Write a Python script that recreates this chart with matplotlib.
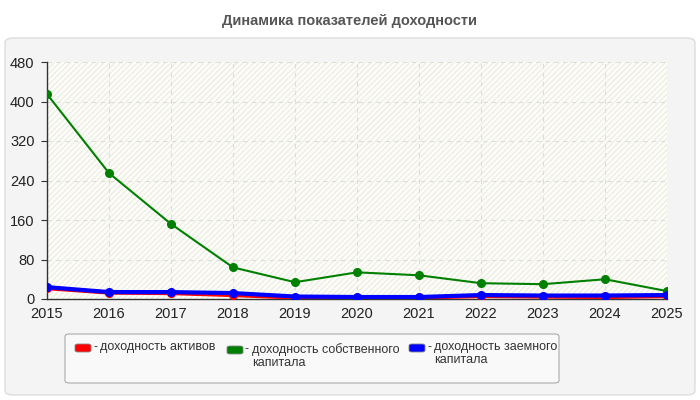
import matplotlib
matplotlib.use("Agg")
import matplotlib.pyplot as plt
from matplotlib.patches import FancyBboxPatch, Rectangle

YEARS = [2015, 2016, 2017, 2018, 2019, 2020, 2021, 2022, 2023, 2024, 2025]
ROA = [22, 13, 12, 8, 3, 3, 3, 6, 5, 4, 6]
ROE = [415, 255, 152, 64, 34, 54, 48, 32, 30, 40, 16]
ROD = [24, 14, 14, 12, 5, 4, 4, 8, 7, 7, 8]

SERIES_LABELS = [
    "доходность активов",
    "доходность собственного\nкапитала",
    "доходность заемного\nкапитала",
]
SERIES_COLORS = ["#ff0000", "#008000", "#0000ff"]
Y_TICKS = [0, 80, 160, 240, 320, 400, 480]
TITLE = "Динамика показателей доходности"

plt.rcParams["font.family"] = ["Liberation Sans", "DejaVu Sans"]
plt.rcParams["hatch.linewidth"] = 0.7

fig = plt.figure(figsize=(7, 4), dpi=100)
fig.patch.set_facecolor("white")

# outer rounded panel
panel = FancyBboxPatch((5 / 700, 5 / 400), 690 / 700, 357 / 400,
                       boxstyle="round,pad=0,rounding_size=0.012",
                       transform=fig.transFigure, facecolor="#f4f4f4",
                       edgecolor="#dddddd", linewidth=1, zorder=-10)
fig.patches.append(panel)

fig.text(0.5, 0.948, TITLE, ha="center", va="center", fontsize=10.5,
         fontweight="bold", color="#555555")

ax = fig.add_axes([47 / 700, 101 / 400, 620 / 700, 237 / 400])
ax.set_facecolor("#fdfdf6")
ax.add_patch(Rectangle((0, 0), 1, 1, transform=ax.transAxes, facecolor="none",
                       edgecolor="#e8e8e8", hatch="//////", linewidth=0,
                       zorder=0.1))

ax.plot(YEARS, ROA, color=SERIES_COLORS[0], lw=3, marker="o", ms=5.5, zorder=3)
ax.plot(YEARS, ROE, color=SERIES_COLORS[1], lw=1.5, marker="o", ms=5.5, zorder=3)
ax.plot(YEARS, ROD, color=SERIES_COLORS[2], lw=3, marker="o", ms=5.5, zorder=4)

ax.set_xlim(YEARS[0], YEARS[-1])
ax.set_ylim(Y_TICKS[0], Y_TICKS[-1])
ax.set_xticks(YEARS)
ax.set_yticks(Y_TICKS)
ax.tick_params(axis="both", labelsize=10.5, colors="#333333", length=4,
               direction="out", labelcolor="#222222")
ax.tick_params(axis="y", pad=5)
ax.tick_params(axis="x", length=0, pad=6)
ax.grid(True, color="#dddddd", linestyle=(0, (4, 4)), linewidth=0.8)
for side in ("top", "right"):
    ax.spines[side].set_visible(False)
for side in ("left", "bottom"):
    ax.spines[side].set_color("#333333")
    ax.spines[side].set_linewidth(1)

# legend box
lbox = FancyBboxPatch((65 / 700, 17 / 400), 494 / 700, 49 / 400,
                      boxstyle="round,pad=0,rounding_size=0.006",
                      transform=fig.transFigure, facecolor="#f9f9f9",
                      edgecolor="#aaaaaa", linewidth=0.8, zorder=1)
fig.patches.append(lbox)
legend_x = [75, 227, 409]
legend_y = [344, 346, 344]
for x, y, label, color in zip(legend_x, legend_y, SERIES_LABELS, SERIES_COLORS):
    sw = FancyBboxPatch((x / 700, (400 - y - 8) / 400), 16 / 700, 8 / 400,
                        boxstyle="round,pad=0,rounding_size=0.004",
                        transform=fig.transFigure, facecolor=color,
                        edgecolor="#888888", linewidth=0.6, zorder=2)
    fig.patches.append(sw)
    fig.text((x + 18) / 700, (400 - y + 3) / 400, "-", ha="left", va="top",
             fontsize=9, color="#333333")
    fig.text((x + 25) / 700, (400 - y + 3) / 400, label, ha="left", va="top",
             fontsize=9, color="#333333", linespacing=1.1)

fig.savefig("out.png", dpi=100, facecolor=fig.get_facecolor())
